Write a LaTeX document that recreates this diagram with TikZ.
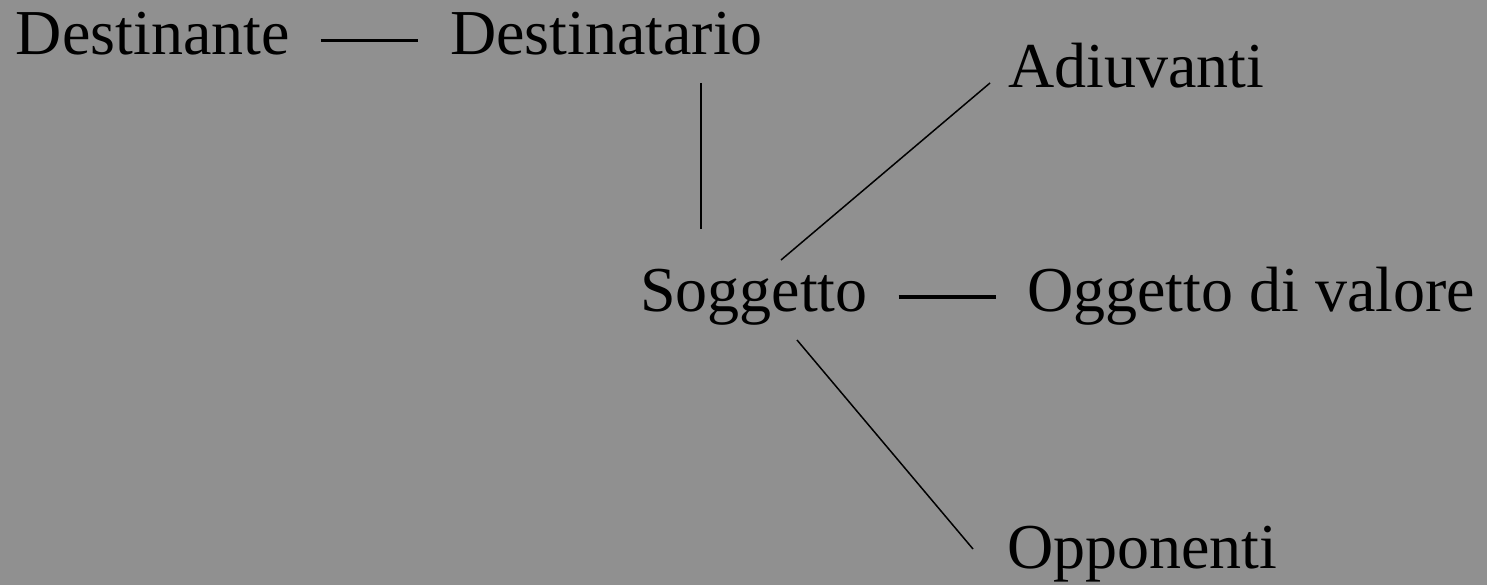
\documentclass[tikz,border=0pt]{standalone}
\usepackage{fontspec}
\setmainfont{Liberation Serif}
\definecolor{bg}{RGB}{144,144,144}
\begin{document}
\begin{tikzpicture}[x=1pt,y=-1pt,
  lbl/.style={inner sep=0pt,outer sep=0pt,anchor=base west,font=\fontsize{64}{70}\selectfont},
  thickln/.style={line width=3.6pt},
  thinln/.style={line width=1.5pt}]
\fill[bg] (0,0) rectangle (1487,585);
\useasboundingbox (0,0) rectangle (1487,585);
\node[lbl] (dest) at (16,55) {Destinante};
\node[lbl] (dtar) at (450,55) {Destinatario};
\node[lbl] (adiu) at (1008,88) {Adiuvanti};
\node[lbl] (sogg) at (640,311) {Soggetto};
\node[lbl] (ogg) at (1027,311) {Oggetto di valore};
\node[lbl] (opp) at (1007,568) {Opponenti};
\draw[thickln] ([shift={(31,-14.5)}]dest.base east) -- ([shift={(-32,-14.5)}]dtar.base west);
\draw[thinln] ([shift={(251,28)}]dtar.base west) -- ([shift={(61,-82)}]sogg.base west);
\draw[thinln] ([shift={(141,-51)}]sogg.base west) -- ([shift={(-18,-5)}]adiu.base west);
\draw[thickln] ([shift={(31,-14)}]sogg.base east) -- ([shift={(-31,-14)}]ogg.base west);
\draw[thinln] ([shift={(157,29)}]sogg.base west) -- ([shift={(-34,-19)}]opp.base west);
\end{tikzpicture}
\end{document}
